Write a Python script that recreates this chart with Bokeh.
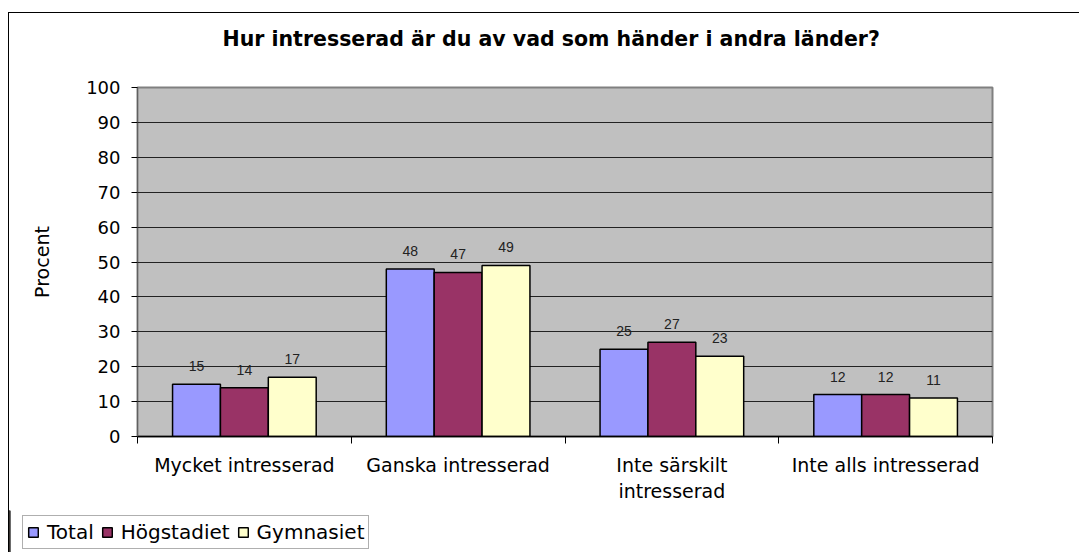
from bokeh.plotting import figure
from bokeh.models import FixedTicker, Legend, LegendItem, Range1d, Title
from bokeh.layouts import column
from bokeh.core.properties import value
from bokeh.embed import file_html
from bokeh.resources import INLINE

categories = ["Mycket intresserad", "Ganska intresserad", "Inte särskilt\nintresserad", "Inte alls intresserad"]
series_names = ["Total", "Högstadiet", "Gymnasiet"]
total = [15, 48, 25, 12]
hogstadiet = [14, 47, 27, 12]
gymnasiet = [17, 49, 23, 11]
y_ticks = [0, 10, 20, 30, 40, 50, 60, 70, 80, 90, 100]
title_text = "Hur intresserad är du av vad som händer i andra länder?"
y_label = "Procent"

colors = ["#9999FF", "#993366", "#FFFFCC"]
series = [total, hogstadiet, gymnasiet]
bar_w = 0.224
offsets = [-bar_w, 0.0, bar_w]

FONT = "DejaVu Sans"

p = figure(width=1070, height=497, output_backend="svg", toolbar_location=None,
           x_range=Range1d(0, 4), y_range=Range1d(0, 100),
           min_border_left=128, min_border_right=87, min_border_top=74, min_border_bottom=74)
p.frame_align = False

p.background_fill_color = "#C0C0C0"
p.border_fill_color = "white"
p.outline_line_color = "#808080"
p.outline_line_width = 2

# title
p.title.text = title_text
p.title.align = "left"
p.title.offset = 85
p.title.vertical_align = "top"
p.title.text_font = FONT
p.title.text_font_size = "20.5px"
p.title.text_font_style = "bold"
p.title.text_color = "black"
p.title.standoff = 25
# blank spacer between title and plot area
p.add_layout(Title(text=" ", text_font_size="10px", standoff=9), "above")

# y axis
p.yaxis.ticker = FixedTicker(ticks=y_ticks)
p.yaxis.axis_label = y_label
p.yaxis.axis_label_text_font = FONT
p.yaxis.axis_label_text_font_size = "19px"
p.yaxis.axis_label_text_font_style = "normal"
p.yaxis.axis_label_text_color = "black"
p.yaxis.axis_label_standoff = 30
p.yaxis.major_label_text_font = FONT
p.yaxis.major_label_text_font_size = "18px"
p.yaxis.major_label_text_color = "black"
p.yaxis.major_tick_in = 0
p.yaxis.major_tick_out = 6
p.yaxis.minor_tick_out = 0
p.yaxis.minor_tick_in = 0
p.yaxis.axis_line_color = "#606060"
p.yaxis.major_tick_line_color = "black"
p.yaxis.major_label_standoff = 11

# x axis: labels at centers, tick marks at boundaries (minor ticks)
centers = [i + 0.5 for i in range(len(categories))]
p.xaxis.ticker = FixedTicker(ticks=centers, minor_ticks=list(range(len(categories) + 1)))
p.xaxis.major_label_overrides = {c: lab for c, lab in zip(centers, categories)}
p.xaxis.major_tick_in = 0
p.xaxis.major_tick_out = 0
p.xaxis.minor_tick_in = 0
p.xaxis.minor_tick_out = 7
p.xaxis.minor_tick_line_color = "black"
p.xaxis.axis_line_color = "black"
p.xaxis.axis_line_width = 1.5
p.xaxis.major_label_text_font = FONT
p.xaxis.major_label_text_font_size = "19px"
p.xaxis.major_label_text_color = "black"
p.xaxis.major_label_standoff = 10

p.xgrid.visible = False
p.ygrid.ticker = FixedTicker(ticks=y_ticks)
p.ygrid.grid_line_color = "#222222"
p.ygrid.grid_line_width = 1

for name, vals, col, off in zip(series_names, series, colors, offsets):
    xs = [c + off for c in centers]
    p.vbar(x=xs, top=vals, width=bar_w, bottom=0, fill_color=col,
           line_color="black", line_width=1.5)
    p.text(x=xs, y=vals, text=[str(v) for v in vals], text_align="center",
           text_baseline="bottom", y_offset=-13, text_font=value("Liberation Sans"),
           text_font_size="14px", text_color="#222222")

# legend strip below the chart (proxy renderers lie outside its visible range)
lf = figure(width=420, height=42, output_backend="svg", toolbar_location=None,
            x_range=Range1d(0, 1), y_range=Range1d(0, 1),
            x_axis_location=None, y_axis_location=None,
            min_border_left=0, min_border_right=0, min_border_top=0, min_border_bottom=0)
lf.frame_align = False
lf.grid.visible = False
lf.outline_line_color = None
lf.background_fill_color = "white"
lf.border_fill_color = "white"
items = []
for name, col, vals in zip(series_names, colors, series):
    r = lf.vbar(x=[-10], top=[vals[0]], width=0.1, fill_color=col, line_color="black", line_width=1.5)
    items.append(LegendItem(label=name, renderers=[r]))
legend = Legend(items=items, orientation="horizontal", location=(13, 3),
                label_text_font=FONT, label_text_font_size="20px", label_text_color="black",
                glyph_width=12, glyph_height=12, spacing=7, padding=4, margin=0,
                label_standoff=8, border_line_color="#606060", border_line_width=1,
                background_fill_color="white", label_height=19)
lf.add_layout(legend, "center")

layout = column(p, lf, spacing=0,
                styles={"margin-left": "8px", "margin-top": "12px",
                        "border-left": "1px solid black", "border-top": "1px solid black"})

open("out.html", "w").write(file_html(layout, INLINE))
